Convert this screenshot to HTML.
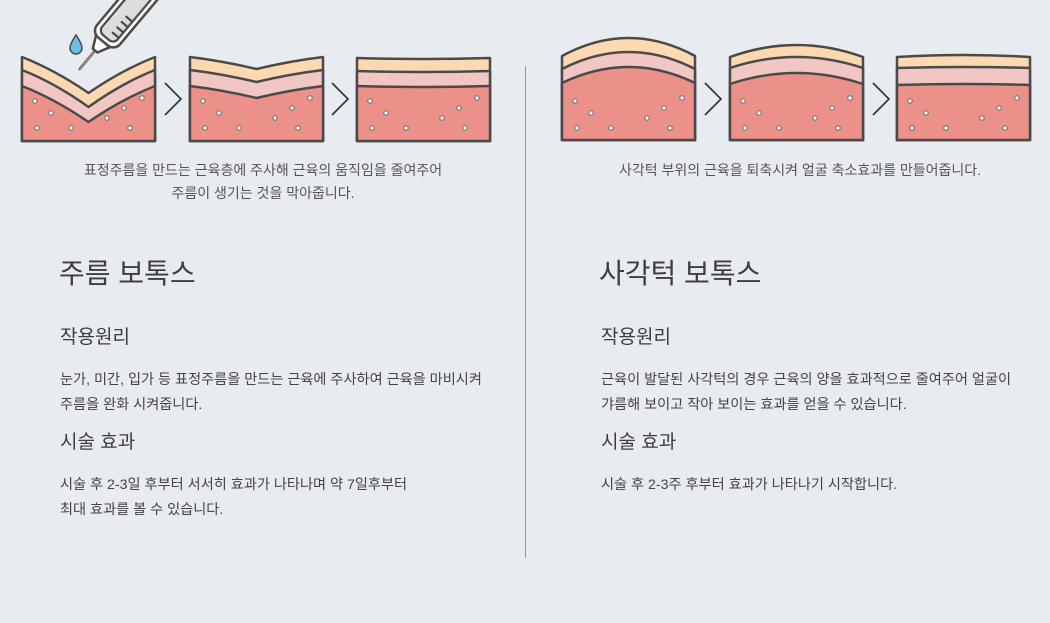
<!DOCTYPE html>
<html><head><meta charset="utf-8"><style>
html,body{margin:0;padding:0;background:#e8ebf0;}
svg{display:block;}
text{font-family:"Liberation Sans","Noto Sans CJK KR",sans-serif;fill:#444;}
.c{font-size:14px;fill:#555;}
.t{font-size:28px;fill:#3d3d45;}
.h{font-size:19px;fill:#3d3d45;}
.b{font-size:14.2px;fill:#444;}
</style></head><body>
<svg width="1050" height="623" viewBox="0 0 1050 623" xmlns="http://www.w3.org/2000/svg">
<defs>
<g id="dots" fill="#fff" stroke="#666" stroke-width="1">
<circle cx="13" cy="101" r="2.2"/><circle cx="29" cy="113" r="2.2"/><circle cx="85" cy="118" r="2.2"/><circle cx="102" cy="108" r="2.2"/><circle cx="120" cy="98" r="2.2"/><circle cx="15" cy="128" r="2.2"/><circle cx="49" cy="128" r="2.2"/><circle cx="108" cy="128" r="2.2"/>
</g>
</defs>
<g stroke="#4a4a4a" stroke-width="2.5" stroke-linejoin="round">
<path d="M22,57 Q55,70 88.5,93 Q122,70 155,57 L155,141 L22,141Z" fill="#fdd8b0"/>
<path d="M22,70 Q55,83 88.5,107 Q122,83 155,70 L155,141 L22,141Z" fill="#f1c6c3"/>
<path d="M22,86 Q55,99 88.5,122 Q122,99 155,86 L155,141 L22,141Z" fill="#ec918a"/>
<path d="M190,57 Q223,61 256.5,69 Q290,61 323,57 L323,141 L190,141Z" fill="#fdd8b0"/>
<path d="M190,70 Q223,74 256.5,82 Q290,74 323,70 L323,141 L190,141Z" fill="#f1c6c3"/>
<path d="M190,86 Q223,90 256.5,98 Q290,90 323,86 L323,141 L190,141Z" fill="#ec918a"/>
<path d="M357,58 Q423.5,60 490,58 L490,141 L357,141Z" fill="#fdd8b0"/>
<path d="M357,71 Q423.5,73 490,71 L490,141 L357,141Z" fill="#f1c6c3"/>
<path d="M357,86 Q423.5,88 490,86 L490,141 L357,141Z" fill="#ec918a"/>
<path d="M562,56 Q628.5,20 695,56 L695,140 L562,140Z" fill="#fdd8b0"/>
<path d="M562,69 Q628.5,35 695,69 L695,140 L562,140Z" fill="#f1c6c3"/>
<path d="M562,83 Q628.5,51 695,83 L695,140 L562,140Z" fill="#ec918a"/>
<path d="M730,57 Q796.5,33 863,57 L863,140 L730,140Z" fill="#fdd8b0"/>
<path d="M730,68 Q796.5,46 863,68 L863,140 L730,140Z" fill="#f1c6c3"/>
<path d="M730,84 Q796.5,62 863,84 L863,140 L730,140Z" fill="#ec918a"/>
<path d="M897,57 Q963.5,53 1030,57 L1030,140 L897,140Z" fill="#fdd8b0"/>
<path d="M897,68 Q963.5,66 1030,68 L1030,140 L897,140Z" fill="#f1c6c3"/>
<path d="M897,85 Q963.5,83 1030,85 L1030,140 L897,140Z" fill="#ec918a"/>
</g>
<use href="#dots" x="22" y="0"/><use href="#dots" x="190" y="0"/><use href="#dots" x="357" y="0"/>
<use href="#dots" x="562" y="0"/><use href="#dots" x="730" y="0"/><use href="#dots" x="897" y="0"/>
<g fill="none" stroke="#2a3140" stroke-width="1.6">
<polyline points="165,83 181,99 165,115"/><polyline points="332,83 348,99 332,115"/>
<polyline points="705,83 721,99 705,115"/><polyline points="873,83 889,99 873,115"/>
</g>
<!-- syringe -->
<path d="M76,35 Q70,44 70,48 A6,6 0 0 0 82,48 Q82,44 76,35Z" fill="#6cc0e8" stroke="#4a4a4a" stroke-width="1.5"/>
<g transform="translate(99,46) rotate(-50)" stroke="#4a4a4a" stroke-width="2.5" stroke-linecap="round" stroke-linejoin="round">
<line x1="-6" y1="0" x2="-30" y2="0" stroke-width="2.5"/>
<line x1="-6" y1="0" x2="-30" y2="0" stroke="#ccc" stroke-width="0.8"/>
<path d="M8,-10 L-6,-3 L-6,3 L8,10Z" fill="#fff"/>
<rect x="6" y="-15" width="100" height="30" rx="9" fill="#fff"/>
<rect x="11" y="-10" width="95" height="20" rx="6" fill="#ddd" stroke-width="2.2"/>
<line x1="19" y1="2" x2="19" y2="10" stroke-width="2.2"/>
<line x1="26" y1="2" x2="26" y2="10" stroke-width="2.2"/>
<line x1="33" y1="2" x2="33" y2="10" stroke-width="2.2"/>
<line x1="40" y1="2" x2="40" y2="10" stroke-width="2.2"/>
</g>
<line x1="525.5" y1="66" x2="525.5" y2="558" stroke="#999" stroke-width="1"/>
<text class="c" x="263" y="175" text-anchor="middle">표정주름을 만드는 근육층에 주사해 근육의 움직임을 줄여주어</text>
<text class="c" x="263" y="198" text-anchor="middle">주름이 생기는 것을 막아줍니다.</text>
<text class="c" x="800" y="175" text-anchor="middle">사각턱 부위의 근육을 퇴축시켜 얼굴 축소효과를 만들어줍니다.</text>
<text class="t" x="59" y="283">주름 보톡스</text>
<text class="h" x="60" y="343">작용원리</text>
<text class="b" x="60" y="384">눈가, 미간, 입가 등 표정주름을 만드는 근육에 주사하여 근육을 마비시켜</text>
<text class="b" x="60" y="409">주름을 완화 시켜줍니다.</text>
<text class="h" x="60" y="448">시술 효과</text>
<text class="b" x="60" y="489">시술 후 2-3일 후부터 서서히 효과가 나타나며 약 7일후부터</text>
<text class="b" x="60" y="514">최대 효과를 볼 수 있습니다.</text>
<text class="t" x="599" y="283">사각턱 보톡스</text>
<text class="h" x="601" y="343">작용원리</text>
<text class="b" x="601" y="384">근육이 발달된 사각턱의 경우 근육의 양을 효과적으로 줄여주어 얼굴이</text>
<text class="b" x="601" y="409">갸름해 보이고 작아 보이는 효과를 얻을 수 있습니다.</text>
<text class="h" x="601" y="448">시술 효과</text>
<text class="b" x="601" y="489">시술 후 2-3주 후부터 효과가 나타나기 시작합니다.</text>
</svg>
</body></html>
